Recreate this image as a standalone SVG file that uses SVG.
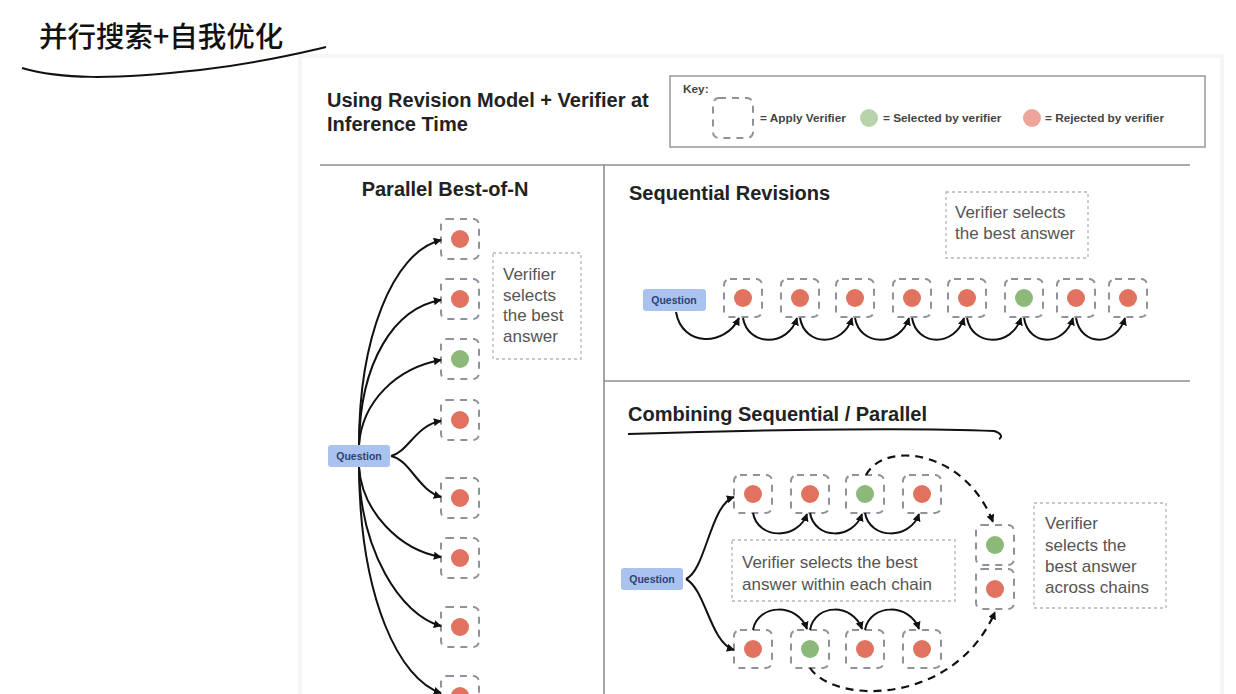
<svg xmlns="http://www.w3.org/2000/svg" width="1236" height="694" viewBox="0 0 1236 694">
<defs>
<marker id="ah" viewBox="0 0 10 10" refX="9" refY="5" markerWidth="8" markerHeight="8" orient="auto" markerUnits="userSpaceOnUse"><path d="M0,0 L10,5 L0,10 z" fill="#111"/></marker>
<marker id="ahd" viewBox="0 0 10 10" refX="9" refY="5" markerWidth="8" markerHeight="8" orient="auto" markerUnits="userSpaceOnUse"><path d="M0,0 L10,5 L0,10 z" fill="#111"/></marker>
<style>
.h{font-family:"Liberation Sans",Arial,sans-serif;font-weight:bold;font-size:20px;fill:#222}
.v{font-family:"Liberation Sans",Arial,sans-serif;font-size:17px;fill:#555}
.k{font-family:"Liberation Sans",Arial,sans-serif;font-weight:bold;font-size:11.8px;fill:#444}
.box{fill:none;stroke:#8d929c;stroke-width:2;stroke-dasharray:7 6}
.vb{fill:none;stroke:#b5b5b5;stroke-width:1.3;stroke-dasharray:3 3}
.r{fill:#e0725f}
.g{fill:#8cb87a}
.q{fill:#a9c2ef}
.qt{font-family:"Liberation Sans",Arial,sans-serif;font-weight:bold;font-size:10.5px;fill:#2f4270}
.c{fill:none;stroke:#111;stroke-width:2;marker-end:url(#ah)}
.cd{fill:none;stroke:#111;stroke-width:2.2;stroke-dasharray:8 6;marker-end:url(#ahd)}
.div{stroke:#8f8f8f;stroke-width:1.6}
</style>
</defs>
<rect width="1236" height="694" fill="#fff"/>
<rect x="300" y="56" width="922" height="660" fill="none" stroke="#f5f5f5" stroke-width="4"/>

<g id="page-title">
<text x="39" y="47" font-family="'Noto Sans CJK SC',sans-serif" font-size="28.5" font-weight="500" fill="#111">并行搜索+自我优化</text>
<path d="M22,68 C60,79 110,80 200,70 C260,63 300,53 326,47" fill="none" stroke="#111" stroke-width="2"/>
</g>

<g id="header">
<text class="h" x="327" y="107">Using Revision Model + Verifier at</text>
<text class="h" x="327" y="131">Inference Time</text>
</g>

<g id="key">
<rect x="670" y="76" width="535" height="71" fill="#fff" stroke="#999" stroke-width="1.5"/>
<text class="k" x="683" y="93">Key:</text>
<rect x="713" y="98" width="40" height="40" rx="6" class="box"/>
<text class="k" x="760" y="122">= Apply Verifier</text>
<circle cx="869" cy="118" r="9" fill="#b6d3aa"/>
<text class="k" x="883" y="122">= Selected by verifier</text>
<circle cx="1032" cy="118" r="9" fill="#eda49c"/>
<text class="k" x="1045" y="122">= Rejected by verifier</text>
</g>

<g id="dividers">
<line class="div" x1="320" y1="165" x2="1190" y2="165"/>
<line class="div" x1="604" y1="165" x2="604" y2="694"/>
<line class="div" x1="604" y1="381" x2="1190" y2="381"/>
</g>

<g id="parallel">
<text class="h" x="445" y="196" text-anchor="middle">Parallel Best-of-N</text>
<g id="p-question"><rect class="q" x="328" y="445" width="62" height="22" rx="3"/><text class="qt" x="359" y="460" text-anchor="middle">Question</text></g>
<g id="p-n1"><rect class="box" x="441" y="219" width="38" height="40" rx="6"/><circle class="r" cx="460" cy="239" r="9"/></g>
<g id="p-n2"><rect class="box" x="441" y="279" width="38" height="40" rx="6"/><circle class="r" cx="460" cy="299" r="9"/></g>
<g id="p-n3"><rect class="box" x="441" y="339" width="38" height="40" rx="6"/><circle class="g" cx="460" cy="359" r="9"/></g>
<g id="p-n4"><rect class="box" x="441" y="400" width="38" height="40" rx="6"/><circle class="r" cx="460" cy="420" r="9"/></g>
<g id="p-n5"><rect class="box" x="441" y="478" width="38" height="40" rx="6"/><circle class="r" cx="460" cy="498" r="9"/></g>
<g id="p-n6"><rect class="box" x="441" y="538" width="38" height="40" rx="6"/><circle class="r" cx="460" cy="558" r="9"/></g>
<g id="p-n7"><rect class="box" x="441" y="607" width="38" height="40" rx="6"/><circle class="r" cx="460" cy="627" r="9"/></g>
<g id="p-n8"><rect class="box" x="441" y="676" width="38" height="40" rx="6"/><circle class="r" cx="460" cy="696" r="9"/></g>
<g id="p-verifier"><rect class="vb" x="493" y="253" width="88" height="106"/>
<text class="v" x="503" y="280">Verifier</text><text class="v" x="503" y="301">selects</text><text class="v" x="503" y="321">the best</text><text class="v" x="503" y="342">answer</text></g>
</g>

<g id="sequential">
<text class="h" x="629" y="200">Sequential Revisions</text>
<g id="s-verifier"><rect class="vb" x="946" y="192" width="142" height="66"/>
<text class="v" x="955" y="218">Verifier selects</text><text class="v" x="955" y="239">the best answer</text></g>
<g id="s-question"><rect class="q" x="643" y="289" width="63" height="22" rx="3"/><text class="qt" x="674" y="304" text-anchor="middle">Question</text></g>
<g id="s-n1"><rect class="box" x="724" y="279" width="38" height="38" rx="6"/><circle class="r" cx="743" cy="298" r="9"/></g>
<g id="s-n2"><rect class="box" x="781" y="279" width="38" height="38" rx="6"/><circle class="r" cx="800" cy="298" r="9"/></g>
<g id="s-n3"><rect class="box" x="836" y="279" width="38" height="38" rx="6"/><circle class="r" cx="855" cy="298" r="9"/></g>
<g id="s-n4"><rect class="box" x="893" y="279" width="38" height="38" rx="6"/><circle class="r" cx="912" cy="298" r="9"/></g>
<g id="s-n5"><rect class="box" x="948" y="279" width="38" height="38" rx="6"/><circle class="r" cx="967" cy="298" r="9"/></g>
<g id="s-n6"><rect class="box" x="1005" y="279" width="38" height="38" rx="6"/><circle class="g" cx="1024" cy="298" r="9"/></g>
<g id="s-n7"><rect class="box" x="1057" y="279" width="38" height="38" rx="6"/><circle class="r" cx="1076" cy="298" r="9"/></g>
<g id="s-n8"><rect class="box" x="1109" y="279" width="38" height="38" rx="6"/><circle class="r" cx="1128" cy="298" r="9"/></g>
</g>

<g id="combining">
<text class="h" x="628" y="421">Combining Sequential / Parallel</text>
<path d="M628,434 C760,430 900,427 994,431 C1001,433 1003,437 999,439" fill="none" stroke="#111" stroke-width="2"/>
<g id="c-question"><rect class="q" x="621" y="568" width="62" height="22" rx="3"/><text class="qt" x="652" y="583" text-anchor="middle">Question</text></g>
<g id="c-t1"><rect class="box" x="734" y="475" width="38" height="38" rx="6"/><circle class="r" cx="753" cy="494" r="9"/></g>
<g id="c-t2"><rect class="box" x="791" y="475" width="38" height="38" rx="6"/><circle class="r" cx="810" cy="494" r="9"/></g>
<g id="c-t3"><rect class="box" x="846" y="475" width="38" height="38" rx="6"/><circle class="g" cx="865" cy="494" r="9"/></g>
<g id="c-t4"><rect class="box" x="903" y="475" width="38" height="38" rx="6"/><circle class="r" cx="922" cy="494" r="9"/></g>
<g id="c-b1"><rect class="box" x="734" y="630" width="38" height="38" rx="6"/><circle class="r" cx="753" cy="649" r="9"/></g>
<g id="c-b2"><rect class="box" x="791" y="630" width="38" height="38" rx="6"/><circle class="g" cx="810" cy="649" r="9"/></g>
<g id="c-b3"><rect class="box" x="846" y="630" width="38" height="38" rx="6"/><circle class="r" cx="865" cy="649" r="9"/></g>
<g id="c-b4"><rect class="box" x="903" y="630" width="38" height="38" rx="6"/><circle class="r" cx="922" cy="649" r="9"/></g>
<g id="c-f1"><rect class="box" x="976" y="525" width="38" height="40" rx="6"/><circle class="g" cx="995" cy="545" r="9"/></g>
<g id="c-f2"><rect class="box" x="976" y="569" width="38" height="40" rx="6"/><circle class="r" cx="995" cy="589" r="9"/></g>
<g id="c-verifier1"><rect class="vb" x="732" y="540" width="223" height="61"/>
<text class="v" x="742" y="568">Verifier selects the best</text><text class="v" x="742" y="590">answer within each chain</text></g>
<g id="c-verifier2"><rect class="vb" x="1034" y="503" width="132" height="105"/>
<text class="v" x="1045" y="529">Verifier</text><text class="v" x="1045" y="551">selects the</text><text class="v" x="1045" y="572">best answer</text><text class="v" x="1045" y="593">across chains</text></g>
</g>

<g id="connectors">
<path class="c" d="M359,445 C359,340 392,252 441,240"/>
<path class="c" d="M359,445 C360,362 394,308 441,300"/>
<path class="c" d="M359,445 C362,402 396,368 441,360"/>
<path class="c" d="M391,456 C408,452 416,425 441,421"/>
<path class="c" d="M391,456 C410,460 418,490 441,497"/>
<path class="c" d="M359,467 C362,512 400,550 441,557"/>
<path class="c" d="M359,467 C360,550 400,615 441,626"/>
<path class="c" d="M359,467 C360,600 400,680 441,693"/>

<path class="c" d="M676,312 C682,347 725,347 739,318"/>
<path class="c" d="M743,318 C748,347 788,347 797,318"/>
<path class="c" d="M800,318 C805,347 843,347 852,318"/>
<path class="c" d="M855,318 C860,347 900,347 909,318"/>
<path class="c" d="M912,318 C917,347 955,347 964,318"/>
<path class="c" d="M967,318 C972,347 1012,347 1021,318"/>
<path class="c" d="M1024,318 C1029,347 1064,347 1073,318"/>
<path class="c" d="M1076,318 C1081,347 1116,347 1125,318"/>

<path class="c" d="M686,579 C706,570 710,505 734,497"/>
<path class="c" d="M686,579 C706,590 710,642 734,650"/>
<path class="c" d="M753,513 C758,540 798,540 807,514"/>
<path class="c" d="M810,513 C815,540 853,540 862,514"/>
<path class="c" d="M865,513 C870,540 910,540 919,514"/>
<path class="c" d="M753,630 C758,603 798,603 807,629"/>
<path class="c" d="M810,630 C815,603 853,603 862,629"/>
<path class="c" d="M865,630 C870,603 910,603 919,629"/>

<path class="cd" d="M866,475 C885,440 965,450 993,522"/>
<path class="cd" d="M810,668 C835,705 955,705 995,612"/>
</g>
</svg>
